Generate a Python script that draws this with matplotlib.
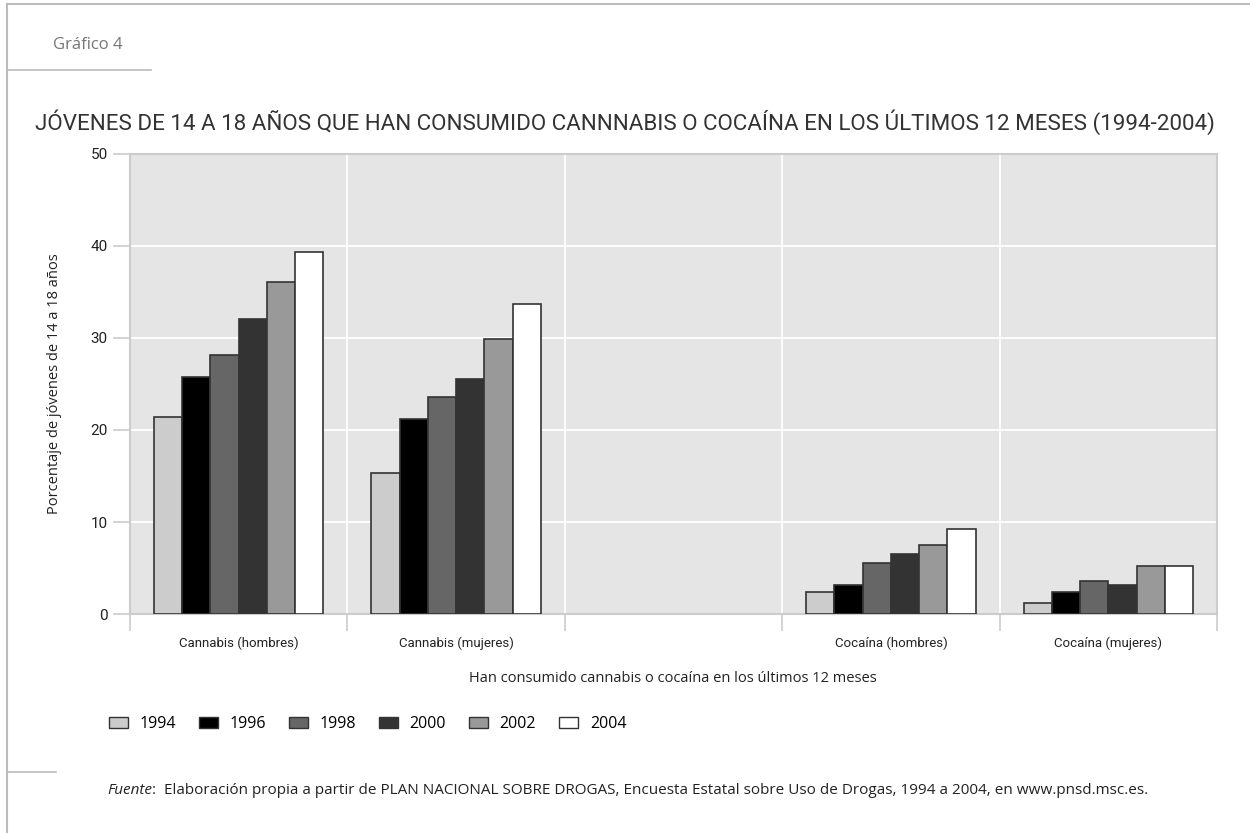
import numpy as np
import matplotlib
matplotlib.use("Agg")
import matplotlib.pyplot as plt
from matplotlib.lines import Line2D
from matplotlib.patches import Patch

categories = ["Cannabis (hombres)", "Cannabis (mujeres)", "", "Cocaína (hombres)", "Cocaína (mujeres)"]
years = ["1994", "1996", "1998", "2000", "2002", "2004"]
v1994 = [21.4, 15.3, np.nan, 2.4, 1.2]
v1996 = [25.8, 21.2, np.nan, 3.2, 2.4]
v1998 = [28.2, 23.6, np.nan, 5.5, 3.6]
v2000 = [32.1, 25.5, np.nan, 6.5, 3.1]
v2002 = [36.1, 29.9, np.nan, 7.5, 5.2]
v2004 = [39.3, 33.7, np.nan, 9.2, 5.2]
series = [v1994, v1996, v1998, v2000, v2002, v2004]
colors = ["#cccccc", "#000000", "#666666", "#333333", "#999999", "#ffffff"]
yticks = [0, 10, 20, 30, 40, 50]

title = "JÓVENES DE 14 A 18 AÑOS QUE HAN CONSUMIDO CANNNABIS O COCAÍNA EN LOS ÚLTIMOS 12 MESES (1994-2004)"
xlabel = "Han consumido cannabis o cocaína en los últimos 12 meses"
ylabel = "Porcentaje de jóvenes de 14 a 18 años"
source = ":  Elaboración propia a partir de PLAN NACIONAL SOBRE DROGAS, Encuesta Estatal sobre Uso de Drogas, 1994 a 2004, en www.pnsd.msc.es."

NARROW = ["Roboto", "DejaVu Sans"]
REG = ["Open Sans", "DejaVu Sans"]

W, H = 1250, 833
fig = plt.figure(figsize=(W / 100, H / 100), dpi=100)
fig.patch.set_facecolor("white")

def fx(px):
    return px / W

def fy(py):
    return 1 - py / H

ax = fig.add_axes([fx(130), fy(614), fx(1217) - fx(130), fy(154) - fy(614)])
ax.set_facecolor("#e5e5e5")

n = len(series)
group = 0.78
bw = group / n
x = np.arange(len(categories))
for i, (vals, c) in enumerate(zip(series, colors)):
    ax.bar(x - group / 2 + bw * (i + 0.5), vals, width=bw, color=c,
           edgecolor="#333333", linewidth=1.2, zorder=3, label=years[i])

ax.set_xlim(-0.5, len(categories) - 0.5)
ax.set_ylim(0, 50)

# major ticks at category boundaries (tick marks only), minor at centers (labels)
ax.set_xticks(np.arange(len(categories) + 1) - 0.5)
ax.set_xticklabels([])
ax.set_xticks(x, minor=True)
ax.set_xticklabels(categories, minor=True, fontfamily=NARROW, fontsize=9.5, color="#222222", va="center")
ax.tick_params(axis="x", which="major", length=12, width=1.2, color="#cccccc")
ax.tick_params(axis="x", which="minor", length=0, pad=21)

ax.set_yticks(yticks)
ax.set_yticklabels([str(t) for t in yticks], fontfamily=NARROW, fontsize=11, color="#222222")
ax.tick_params(axis="y", length=12, width=1.2, color="#cccccc", pad=4)

ax.grid(True, axis="y", color="white", linewidth=1.3, zorder=1)
ax.grid(True, axis="x", which="major", color="white", linewidth=1.3, zorder=1)
ax.set_axisbelow(True)

for s in ax.spines.values():
    s.set_color("#cccccc")
    s.set_linewidth(1.5)

ax.set_ylabel(ylabel, fontfamily=REG, fontsize=10.5, color="#222222")
axw = fx(1217) - fx(130)
ax.yaxis.set_label_coords((fx(62) - fx(130)) / axw, 0.5)

fig.text(fx(673), fy(678), xlabel, ha="center", va="center", fontfamily=REG, fontsize=10.5, color="#222222")

# Title and header
fig.text(fx(53), fy(45), "Gráfico 4", ha="left", va="center", fontfamily=REG, fontsize=12, color="#777777")
fig.text(fx(35), fy(122), title, ha="left", va="center", fontfamily=NARROW, fontsize=16.1, color="#333333")

# Frame lines
fig.add_artist(Line2D([fx(7), fx(7)], [fy(4), fy(833)], color="#bbbbbb", linewidth=1.5, transform=fig.transFigure))
fig.add_artist(Line2D([fx(7), fx(1250)], [fy(4), fy(4)], color="#bbbbbb", linewidth=1.5, transform=fig.transFigure))
fig.add_artist(Line2D([fx(7), fx(151)], [fy(70), fy(70)], color="#bbbbbb", linewidth=1.2, transform=fig.transFigure))
fig.add_artist(Line2D([fx(7), fx(56)], [fy(772), fy(772)], color="#bbbbbb", linewidth=1.2, transform=fig.transFigure))

# Legend
handles = [Patch(facecolor=c, edgecolor="#333333", linewidth=1.0) for c in colors]
fig.legend(handles, years, loc="center left", bbox_to_anchor=(fx(95), fy(724)), ncol=6,
           frameon=False, handlelength=1.15, handleheight=0.75, handletextpad=0.75, columnspacing=1.45,
           prop={"family": REG, "size": 11.5})

# Footer
fsrc = fig.text(fx(107), fy(790), "Fuente", ha="left", va="center", fontfamily=REG, fontsize=11,
                style="italic", color="#222222")
fig.canvas.draw()
bb = fsrc.get_window_extent(renderer=fig.canvas.get_renderer())
fig.text(bb.x1 / W, fy(790), source, ha="left", va="center", fontfamily=REG, fontsize=11, color="#222222")

fig.savefig("out.png", dpi=100)
